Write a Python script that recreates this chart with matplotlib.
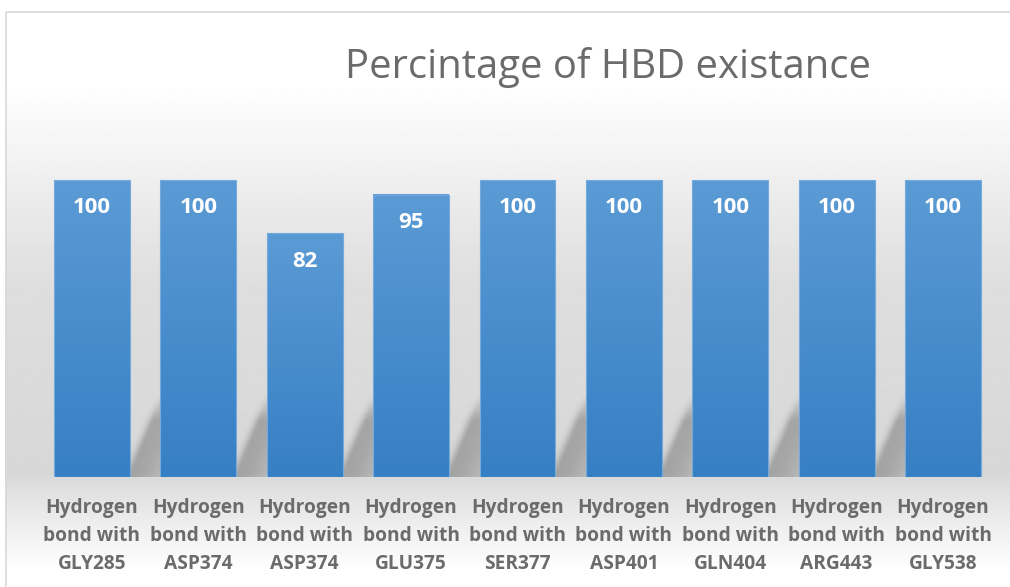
import numpy as np
import matplotlib.pyplot as plt
from matplotlib.patches import Rectangle

# HBD occupancy per interaction (%)
residues = ['GLY285', 'ASP374', 'ASP374', 'GLU375', 'SER377',
            'ASP401', 'GLN404', 'ARG443', 'GLY538']
values = [100, 100, 82, 95, 100, 100, 100, 100, 100]
labels = ['Hydrogen\nbond with\n' + r for r in residues]

W, H = 1010, 587
fig = plt.figure(figsize=(W / 100, H / 100), dpi=100)
fig.patch.set_facecolor('white')

# background panel with vertical grey gradient
bg = fig.add_axes([0, 0, 1, 1], zorder=0)
bg.set_axis_off()
ys = np.linspace(0, H, 400)
stops_y = [0, 70, 130, 200, 280, 470, 490, 540, 572, 587]
stops_c = [255, 255, 246, 234, 222, 215, 225, 244, 255, 255]
col = np.interp(ys, stops_y, stops_c) / 255.0
grad = np.repeat(col[:, None], 2, axis=1)
bg.imshow(grad, cmap='gray', vmin=0, vmax=1, extent=[5, W + 5, H, 11],
          aspect='auto', interpolation='bilinear')
bg.add_patch(Rectangle((5.5, 11.5), W + 10, H + 10, fill=False,
                       edgecolor='#d9d9d9', linewidth=1.2))
bg.set_xlim(0, W)
bg.set_ylim(H, 0)

ax = fig.add_axes([38.8 / W, 110 / H, (996.2 - 38.8) / W, 356.4 / H], zorder=1)
ax.patch.set_alpha(0)
x = np.arange(len(values))
bar_w = 0.714

# soft diagonal shadow falling behind each bar
gx = np.linspace(-0.5, len(values) - 0.5, 1400)
gy = np.linspace(0, 40, 300)
GX, GY = np.meshgrid(gx, gy)
shade = np.zeros_like(GX)
slant, sh_h = 0.3, 25.0
for xi in x:
    xr = xi + bar_w / 2
    u = GX - (xr + slant * GY / sh_h)
    band = np.where(u > 0, np.exp(-(u / 0.4) ** 2), np.exp(-(u / 0.06) ** 2))
    top = np.clip((sh_h + 3 - GY) / 9.0, 0, 1)
    shade = np.maximum(shade, band * top)
edge = np.clip((len(values) - 0.5 - 0.13 - GX) / 0.06, 0, 1)
shade = shade * edge
rgba = np.zeros(shade.shape + (4,))
rgba[..., 3] = shade * 0.24
ax.imshow(rgba, extent=[gx[0], gx[-1], 0, 40], origin='lower',
          aspect='auto', zorder=1, interpolation='bilinear')

# bars with top-to-bottom blue gradient
bar_grad = np.linspace(0, 1, 256)[:, None, None]
top_c = np.array([91, 155, 213]) / 255.0
bot_c = np.array([55, 127, 196]) / 255.0
for xi, v in zip(x, values):
    img = top_c * (1 - bar_grad) + bot_c * bar_grad
    x0 = xi - bar_w / 2
    ax.imshow(img, extent=[x0, x0 + bar_w, 0, v], aspect='auto', zorder=2,
              interpolation='bilinear')
    ax.add_patch(Rectangle((x0, 0), bar_w, v, fill=False,
                           edgecolor='#74aadc', linewidth=0.8, zorder=3))
    ax.text(xi, v - 9.3, f'{v}', ha='center', va='center', color='white',
            fontsize=16, fontweight='bold', family='Open Sans', zorder=4)

ax.set_xlim(-0.5, len(values) - 0.5)
ax.set_ylim(0, 120)
ax.set_xticks(x)
ax.set_xticklabels(labels, fontsize=13.8, fontweight='bold', color='#6b6b6b',
                   family='Open Sans', linespacing=1.53)
ax.tick_params(axis='x', length=0, pad=15)
ax.set_yticks([])
for s in ax.spines.values():
    s.set_visible(False)

fig.text(608 / W, 1 - 67 / H, 'Percintage of HBD existance', ha='center',
         va='center', fontsize=28.8, color='#6b6b6b', family='Open Sans')

fig.savefig('out.png', dpi=100)
